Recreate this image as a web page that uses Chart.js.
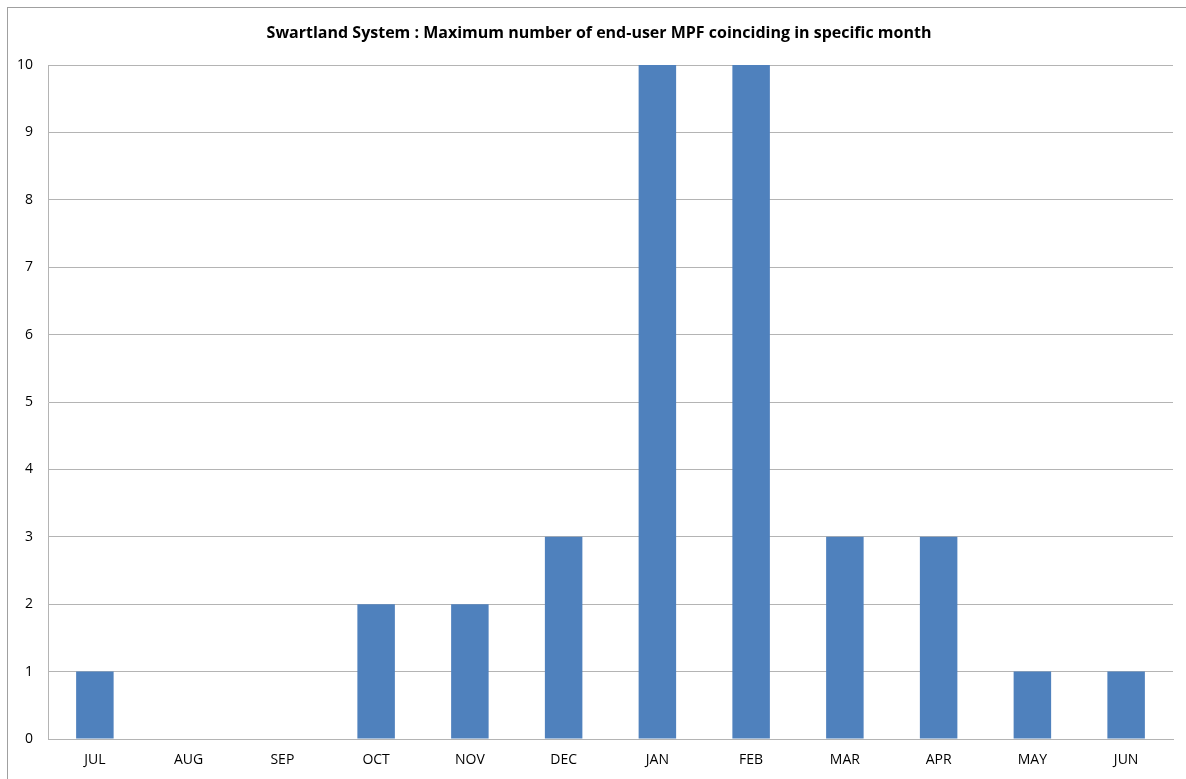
<!DOCTYPE html>
<html>
<head>
<meta charset="utf-8">
<script src="https://cdn.jsdelivr.net/npm/chart.js@4"></script>
<style>
  html, body { margin: 0; padding: 0; background: #fff; overflow: hidden; }
  #wrap { position: relative; width: 1186px; height: 779px; }
  #frame { position: absolute; left: 7px; top: 7px; width: 1300px; height: 900px;
           border-left: 1px solid #a0a0a0; border-top: 1px solid #a0a0a0; }
  canvas { position: absolute; left: 0; top: 0; }
</style>
</head>
<body>
<div id="wrap">
  <div id="frame"></div>
  <canvas id="c" width="1186" height="779"></canvas>
</div>
<script>
const months = ['JUL', 'AUG', 'SEP', 'OCT', 'NOV', 'DEC', 'JAN', 'FEB', 'MAR', 'APR', 'MAY', 'JUN'];
const maxCoinciding = [1, 0, 0, 2, 2, 3, 10, 10, 3, 3, 1, 1];
const yTicks = [0, 1, 2, 3, 4, 5, 6, 7, 8, 9, 10];
const titleText = 'Swartland System : Maximum number of end-user MPF coinciding in specific month';

const labelFont = { family: "'Open Sans', 'Liberation Sans', sans-serif", size: 14 };

const titlePlugin = {
  id: 'chartTitle',
  afterDraw(chart) {
    const ctx = chart.ctx;
    ctx.save();
    ctx.font = "bold 16px 'Open Sans', 'Liberation Sans', sans-serif";
    ctx.fillStyle = '#000';
    ctx.textAlign = 'center';
    ctx.textBaseline = 'middle';
    ctx.fillText(titleText, 599, 33);
    ctx.restore();
  }
};

new Chart(document.getElementById('c'), {
  type: 'bar',
  data: {
    labels: months,
    datasets: [{
      data: maxCoinciding,
      backgroundColor: '#4f81bd',
      borderWidth: 0,
      categoryPercentage: 1.0,
      barPercentage: 0.4
    }]
  },
  options: {
    responsive: false,
    animation: false,
    layout: { padding: { left: 0, right: 13, top: 65, bottom: 0 } },
    plugins: { legend: { display: false }, title: { display: false }, tooltip: { enabled: false } },
    scales: {
      x: {
        grid: { display: false, drawTicks: false },
        border: { display: true, color: '#b4b4b4', width: 1 },
        ticks: { color: '#000', font: labelFont, padding: 13, maxRotation: 0 },
        afterFit(scale) { scale.height = 40; }
      },
      y: {
        min: 0, max: 10,
        afterBuildTicks(scale) { scale.ticks = yTicks.map(v => ({ value: v })); },
        grid: { color: '#b4b4b4', drawTicks: false },
        border: { display: true, color: '#b4b4b4', width: 1 },
        ticks: { color: '#000', font: labelFont, padding: 15 },
        afterFit(scale) { scale.width = 48; }
      }
    }
  },
  plugins: [titlePlugin]
});
</script>
</body>
</html>
